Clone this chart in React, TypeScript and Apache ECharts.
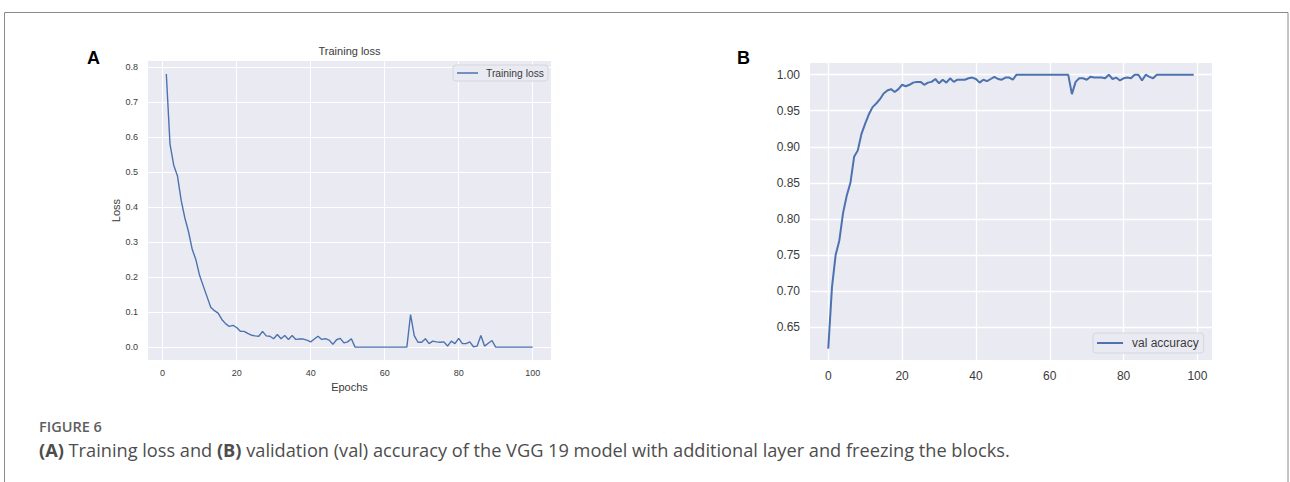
import React, { useEffect, useRef } from "react";
import * as echarts from "echarts";

// Training loss, epochs 1..100
const trainingLoss = [
  0.78, 0.58, 0.52, 0.49, 0.42, 0.37, 0.33, 0.28, 0.25, 0.205,
  0.175, 0.145, 0.115, 0.105, 0.098, 0.08, 0.068, 0.06, 0.063, 0.057,
  0.046, 0.046, 0.04, 0.035, 0.033, 0.032, 0.046, 0.033, 0.032, 0.025,
  0.037, 0.025, 0.034, 0.023, 0.034, 0.023, 0.024, 0.024, 0.021, 0.016,
  0.024, 0.032, 0.023, 0.025, 0.021, 0.009, 0.022, 0.026, 0.013, 0.016,
  0.025, 0.001, 0.001, 0.001, 0.001, 0.001, 0.001, 0.001, 0.001, 0.001,
  0.001, 0.001, 0.001, 0.001, 0.001, 0.001, 0.094, 0.034, 0.015, 0.015,
  0.025, 0.011, 0.018, 0.016, 0.015, 0.016, 0.004, 0.018, 0.011, 0.026,
  0.011, 0.011, 0.016, 0.002, 0.004, 0.034, 0.004, 0.012, 0.02, 0.001,
  0.001, 0.001, 0.001, 0.001, 0.001, 0.001, 0.001, 0.001, 0.001, 0.001,
];
const lossFirstEpoch = 1;

// Validation accuracy, epochs 0..99
const valAccuracy = [
  0.62, 0.705, 0.75, 0.77, 0.808, 0.832, 0.85, 0.886, 0.895, 0.918,
  0.932, 0.945, 0.955, 0.96, 0.966, 0.974, 0.978, 0.98, 0.976, 0.98,
  0.986, 0.984, 0.986, 0.989, 0.99, 0.99, 0.986, 0.989, 0.99, 0.994,
  0.988, 0.993, 0.989, 0.995, 0.99, 0.993, 0.993, 0.993, 0.995, 0.996,
  0.994, 0.989, 0.993, 0.991, 0.994, 0.997, 0.994, 0.993, 0.996, 0.996,
  0.993, 1.0, 1.0, 1.0, 1.0, 1.0, 1.0, 1.0, 1.0, 1.0,
  1.0, 1.0, 1.0, 1.0, 1.0, 1.0, 0.973, 0.99, 0.995, 0.995,
  0.993, 0.997, 0.996, 0.996, 0.996, 0.995, 1.0, 0.994, 0.996, 0.992,
  0.995, 0.996, 0.995, 1.0, 1.0, 0.992, 1.0, 0.997, 0.995, 1.0,
  1.0, 1.0, 1.0, 1.0, 1.0, 1.0, 1.0, 1.0, 1.0, 1.0,
];
const accFirstEpoch = 0;

const seriesNames = ["Training loss", "val accuracy"];
const panelLabels = ["A", "B"];
const lossTitle = "Training loss";
const lossXName = "Epochs";
const lossYName = "Loss";
const figureLabel = "FIGURE 6";
const captionParts = [
  { t: "(A)", b: true },
  { t: " Training loss and ", b: false },
  { t: "(B)", b: true },
  { t: " validation (val) accuracy of the VGG 19 model with additional layer and freezing the blocks.", b: false },
];

const LINE = "#4C72B0";
const BG = "#EAEAF2";
const TXT = "#3b3b3b";
const FONT = "'Liberation Sans', Arial, sans-serif";
const CAP_FONT = "'Open Sans', 'Noto Sans', sans-serif";
const CAP_SIZE = 18.2;

export default function App() {
  const ref = useRef<HTMLDivElement>(null);
  useEffect(() => {
    if (!ref.current) return;
    const chart = echarts.init(ref.current, undefined, { renderer: "svg" });

    const captionRich = {
      n: { fontFamily: CAP_FONT, fontSize: CAP_SIZE, fontWeight: 400, fill: "#4d4d4d" },
      b: { fontFamily: CAP_FONT, fontSize: CAP_SIZE, fontWeight: 700, fill: "#4d4d4d" },
    };
    const captionText = captionParts.map((p) => `{${p.b ? "b" : "n"}|${p.t}}`).join("");

    const option: any = {
      animation: false,
      backgroundColor: "#ffffff",
      grid: [
        { left: 148, top: 61, width: 403, height: 299, show: true, backgroundColor: BG, borderWidth: 0 },
        { left: 810, top: 63, width: 402, height: 297, show: true, backgroundColor: BG, borderWidth: 0 },
      ],
      xAxis: [
        {
          gridIndex: 0,
          type: "value",
          min: -3.95,
          max: 104.95,
          splitNumber: 5,
          name: lossXName,
          nameLocation: "middle",
          nameGap: 20,
          nameTextStyle: { fontFamily: FONT, fontSize: 11, color: TXT },
          axisLine: { show: false },
          axisTick: { show: false },
          axisLabel: {
            showMinLabel: false,
            showMaxLabel: false,
            margin: 8,
            fontFamily: FONT,
            fontSize: 9,
            color: TXT,
            formatter: (v: number) => String(Math.round(v)),
          },
          splitLine: { show: true, showMinLine: false, showMaxLine: false, lineStyle: { color: "#ffffff", width: 1 } },
        },
        {
          gridIndex: 1,
          type: "value",
          min: -4.95,
          max: 103.95,
          splitNumber: 5,
          axisLine: { show: false },
          axisTick: { show: false },
          axisLabel: {
            showMinLabel: false,
            showMaxLabel: false,
            margin: 10,
            fontFamily: FONT,
            fontSize: 12,
            color: TXT,
            formatter: (v: number) => String(Math.round(v)),
          },
          splitLine: { show: true, showMinLine: false, showMaxLine: false, lineStyle: { color: "#ffffff", width: 1.3 } },
        },
      ],
      yAxis: [
        {
          gridIndex: 0,
          type: "value",
          min: -0.0357,
          max: 0.817,
          splitNumber: 8,
          name: lossYName,
          nameLocation: "middle",
          nameGap: 25,
          nameRotate: 90,
          nameTextStyle: { fontFamily: FONT, fontSize: 11, color: TXT },
          axisLine: { show: false },
          axisTick: { show: false },
          axisLabel: {
            showMinLabel: false,
            showMaxLabel: false,
            margin: 10,
            fontFamily: FONT,
            fontSize: 9,
            color: TXT,
            formatter: (v: number) => v.toFixed(1),
          },
          splitLine: { show: true, showMinLine: false, showMaxLine: false, lineStyle: { color: "#ffffff", width: 1 } },
        },
        {
          gridIndex: 1,
          type: "value",
          min: 0.6042,
          max: 1.0162,
          splitNumber: 8,
          axisLine: { show: false },
          axisTick: { show: false },
          axisLabel: {
            showMinLabel: false,
            showMaxLabel: false,
            margin: 10,
            fontFamily: FONT,
            fontSize: 12,
            color: TXT,
            formatter: (v: number) => v.toFixed(2),
          },
          splitLine: { show: true, showMinLine: false, showMaxLine: false, lineStyle: { color: "#ffffff", width: 1.3 } },
        },
      ],
      legend: [
        {
          data: [seriesNames[0]],
          left: 453,
          top: 65,
          icon: "rect",
          itemWidth: 21,
          itemHeight: 1.5,
          padding: [3, 4, 3, 4],
          backgroundColor: BG,
          borderColor: "#d6d6de",
          borderWidth: 1,
          borderRadius: 3,
          textStyle: { fontFamily: FONT, fontSize: 10.3, color: TXT, padding: [0, 0, 0, 3] },
        },
        {
          data: [seriesNames[1]],
          left: 1093,
          top: 333,
          icon: "rect",
          itemWidth: 26,
          itemHeight: 2,
          padding: [4, 5, 4, 4],
          backgroundColor: BG,
          borderColor: "#d6d6de",
          borderWidth: 1,
          borderRadius: 3,
          textStyle: { fontFamily: FONT, fontSize: 12, color: TXT, padding: [0, 0, 0, 4] },
        },
      ],
      series: [
        {
          type: "line",
          name: seriesNames[0],
          xAxisIndex: 0,
          yAxisIndex: 0,
          symbol: "none",
          color: LINE,
          lineStyle: { color: LINE, width: 1.4 },
          data: trainingLoss.map((v, i) => [i + lossFirstEpoch, v]),
        },
        {
          type: "line",
          name: seriesNames[1],
          xAxisIndex: 1,
          yAxisIndex: 1,
          symbol: "none",
          color: LINE,
          lineStyle: { color: LINE, width: 2 },
          data: valAccuracy.map((v, i) => [i + accFirstEpoch, v]),
        },
      ],
      graphic: [
        {
          type: "rect",
          shape: { x: 4.5, y: 12.5, width: 1283.5, height: 520 },
          style: { fill: "none", stroke: "#8a8a8a", lineWidth: 1 },
          silent: true,
        },
        {
          type: "text",
          x: 349.5,
          y: 51,
          style: { text: lossTitle, fontFamily: FONT, fontSize: 11, fill: TXT, textAlign: "center", textVerticalAlign: "middle" },
        },
        {
          type: "text",
          x: 87,
          y: 58,
          style: { text: panelLabels[0], fontFamily: FONT, fontSize: 18, fontWeight: "bold", fill: "#000", textVerticalAlign: "middle" },
        },
        {
          type: "text",
          x: 737,
          y: 58,
          style: { text: panelLabels[1], fontFamily: FONT, fontSize: 18, fontWeight: "bold", fill: "#000", textVerticalAlign: "middle" },
        },
        {
          type: "text",
          x: 39,
          y: 426,
          style: { text: figureLabel, fontFamily: CAP_FONT, fontSize: 14.5, fontWeight: 600, fill: "#5e5e5e", textVerticalAlign: "middle" },
        },
        {
          type: "text",
          x: 39,
          y: 450,
          style: {
            text: captionText,
            rich: captionRich,
            fontFamily: CAP_FONT,
            fontSize: CAP_SIZE,
            fill: "#4d4d4d",
            textVerticalAlign: "middle",
          },
        },
      ],
    };
    chart.setOption(option);
    return () => chart.dispose();
  }, []);
  return (
    <div
      ref={ref}
      style={{ position: "fixed", left: 0, top: 0, width: 1290, height: 482, background: "#fff" }}
    />
  );
}
